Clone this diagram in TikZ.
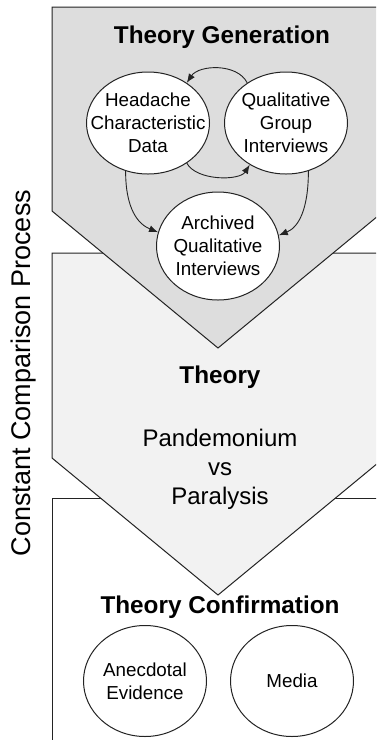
\documentclass[tikz,border=0pt]{standalone}
\usepackage{fontspec}
\setmainfont{Liberation Sans}
\usetikzlibrary{shapes.geometric,arrows.meta}
\definecolor{GenGray}{RGB}{221,221,221}
\definecolor{TheoryGray}{RGB}{242,242,242}
\definecolor{EdgeGray}{RGB}{35,35,35}

\tikzset{
  bubble/.style={ellipse, draw=EdgeGray, fill=white, line width=1pt,
    minimum width=123pt, minimum height=102pt, inner xsep=-14pt, inner ysep=0pt,
    align=center, font=\fontsize{18.8}{23}\selectfont},
  flow/.style={draw=EdgeGray, line width=0.9pt, -{Latex[length=9pt,width=7pt]}},
  heading/.style={font=\fontsize{24.3}{29}\selectfont\bfseries},
  stage/.style={draw=EdgeGray, line width=1pt}
}

\begin{document}
\begin{tikzpicture}[x=1pt, y=-1pt]
  \useasboundingbox (0,0) rectangle (376,740);
  \clip (0,0) rectangle (376,740);

  % Stages, bottom one first
  \filldraw[stage, fill=white] (52,498) -- (384,498) -- (384,800) -- (52,800) -- cycle;
  \filldraw[stage, fill=TheoryGray] (52,253) -- (384,253) -- (384,458) -- (218,595) -- (52,458) -- cycle;
  \filldraw[stage, fill=GenGray] (52,7) -- (384,7) -- (384,211) -- (218,348) -- (52,211) -- cycle;

  % Theory generation
  \node[heading] (gen) at (222,37) {Theory Generation};
  \node[bubble] (hcd) at (148,123) {Headache\\Characteristic\\Data};
  \node[bubble] (qgi) at (286,123) {Qualitative\\Group\\Interviews};
  \node[bubble, minimum height=108pt] (aqi) at (218,246) {Archived\\Qualitative\\Interviews};

  \draw[flow] (qgi.134) .. controls +(-10,-20) and +(12,-18) .. (hcd.46);
  \draw[flow] (hcd.-46) .. controls +(10,18) and +(-10,16) .. (qgi.-131);
  \draw[flow] (hcd.-115) .. controls +(0,38) and +(-20,-8) .. (aqi.167);
  \draw[flow] (qgi.-65) .. controls +(0,38) and +(20,-8) .. (aqi.10);

  % Theory
  \node[heading] (thy) at (220,377) {Theory};
  \node[align=center, font=\fontsize{24}{29}\selectfont] (pvp) at (220,469) {Pandemonium\\vs\\Paralysis};

  % Theory confirmation
  \node[heading] (conf) at (220,607) {Theory Confirmation};
  \node[bubble, minimum height=111pt] (ane) at (145,681) {Anecdotal\\Evidence};
  \node[bubble, minimum height=111pt] (med) at (292,681) {Media};

  % Side label
  \node[rotate=90, font=\fontsize{27}{32}\selectfont] (ccp) at (24,373) {Constant Comparison Process};
\end{tikzpicture}
\end{document}
